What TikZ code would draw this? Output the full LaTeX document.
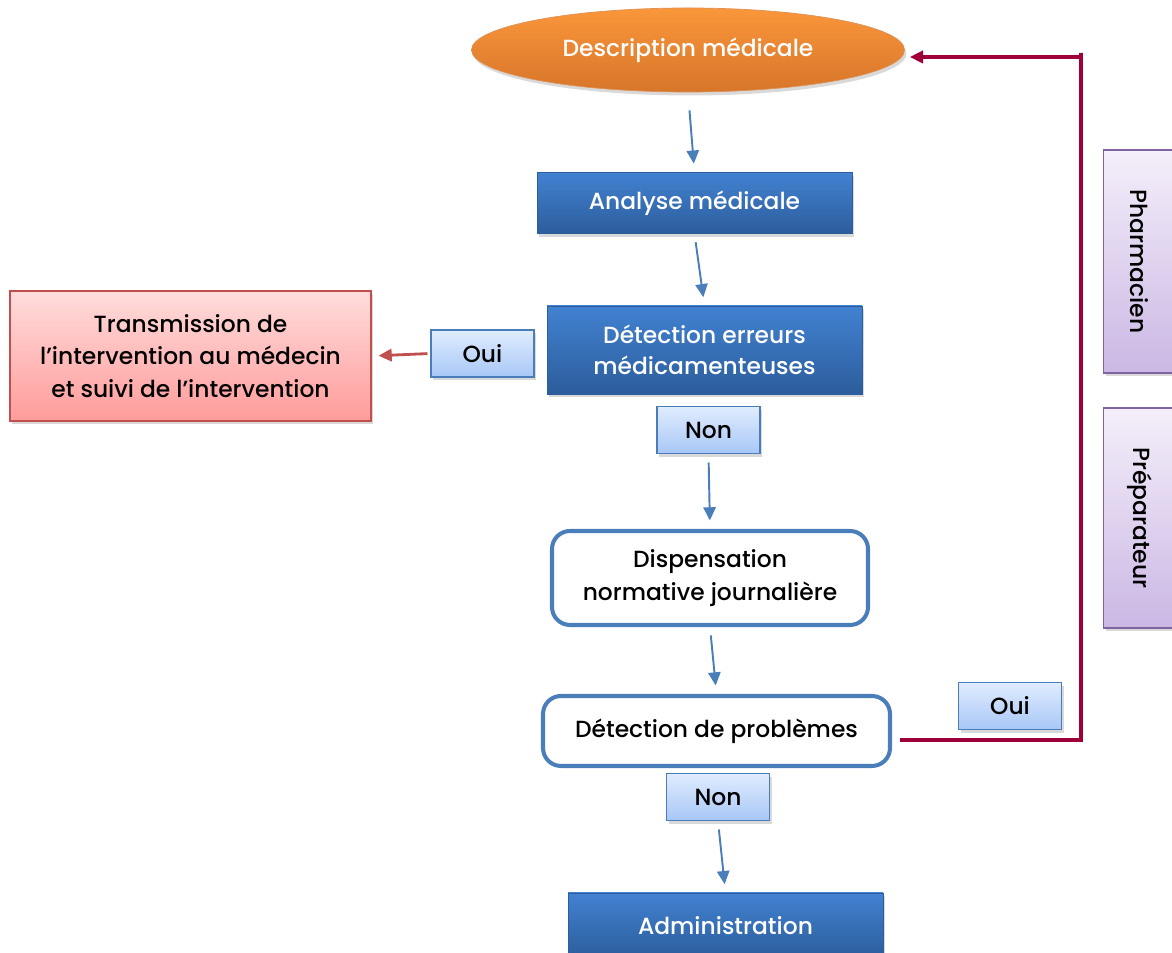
\documentclass[tikz,border=0pt]{standalone}
\usepackage{fontspec}
\setmainfont{Poppins}[UprightFont=* Medium]
\usetikzlibrary{arrows.meta,shadows,shapes.geometric}
\definecolor{flowblue}{HTML}{4A7EBB}
\definecolor{boxtop}{HTML}{4282D1}
\definecolor{boxbot}{HTML}{2C5D9C}
\definecolor{tagtop}{HTML}{E0ECFE}
\definecolor{tagbot}{HTML}{A8C7F6}
\definecolor{orangetop}{HTML}{FA963A}
\definecolor{orangebot}{HTML}{D7752A}
\definecolor{redtop}{HTML}{FFDCDC}
\definecolor{redbot}{HTML}{FF9C9B}
\definecolor{rededge}{HTML}{C0504D}
\definecolor{purpletop}{HTML}{F4EFFA}
\definecolor{purplebot}{HTML}{CBB7E4}
\definecolor{purpleedge}{HTML}{8064A2}
\definecolor{loopred}{HTML}{A0003A}

\begin{document}
\begin{tikzpicture}[>={Triangle[width=7pt,length=7.5pt]},
  shade/.style={drop shadow={shadow xshift=0.04cm, shadow yshift=-0.07cm, opacity=0.3}},
  stage/.style={shade, draw=boxbot, top color=boxtop, bottom color=boxbot, text=white, align=center, inner sep=0pt, minimum width=6.3cm, font=\fontsize{13.3}{18}\selectfont},
  check/.style={draw=flowblue, line width=2.3pt, rounded corners=0.36cm, fill=white, align=center, inner sep=0pt, font=\fontsize{13.3}{18.5}\selectfont},
  tag/.style={shade, draw=flowblue, semithick, top color=tagtop, bottom color=tagbot, inner sep=0pt, minimum width=2.06cm, minimum height=0.94cm, font=\fontsize{13.3}{14}\selectfont},
  actor/.style={shade, draw=purpleedge, semithick, top color=purpletop, bottom color=purplebot, rotate=-90, inner sep=0pt, minimum height=1.44cm, font=\fontsize{13.3}{14}\selectfont},
  flow/.style={draw=flowblue, line width=1.1pt, ->, shorten >=0.17cm, shorten <=0.17cm}]
\useasboundingbox (0,0) rectangle (23.44,19.06);
% main column
\node[shade, ellipse, draw=orangebot!80, top color=orangetop, bottom color=orangebot, text=white, inner sep=0pt, minimum width=8.66cm, minimum height=1.68cm, font=\fontsize{13.3}{14}\selectfont] (desc) at (13.76, 18.06) {Description médicale};
\node[stage, minimum height=1.22cm] (analyse) at (13.89, 15.0) {Analyse médicale};
\node[stage, minimum height=1.76cm] (erreurs) at (14.09, 12.06) {Détection erreurs\\médicamenteuses};
\node[tag] (oui1) at (9.65, 11.99) {Oui};
\node[shade, draw=rededge, semithick, top color=redtop, bottom color=redbot, align=center, inner sep=0pt, minimum width=7.22cm, minimum height=2.6cm, font=\fontsize{13.3}{18.5}\selectfont] (transm) at (3.81, 11.94) {Transmission de\\l’intervention au médecin\\et suivi de l’intervention};
\node[tag] (non1) at (14.17, 10.46) {Non};
\node[check, minimum width=6.32cm, minimum height=1.88cm] (dispens) at (14.2, 7.5) {Dispensation\\normative journalière};
\node[check, minimum width=6.94cm, minimum height=1.4cm] (probl) at (14.33, 4.44) {Détection de problèmes};
\node[tag] (non2) at (14.36, 3.12) {Non};
\node[stage, minimum height=1.3cm] (admin) at (14.51, 0.55) {Administration};
\node[tag] (oui2) at (20.2, 4.94) {Oui};
% actors
\node[actor, minimum width=4.46cm] (pharm) at (22.79, 13.83) {Pharmacien};
\node[actor, minimum width=4.4cm] (prep) at (22.79, 8.7) {Préparateur};
\coordinate (turn) at (21.62, 18.0);
\draw [flow, shorten <=0.36cm] (desc.south) -- (analyse.north) ;
\draw [flow] (analyse.south) -- (erreurs.north) ;
\draw [flow] (non1.south) -- (dispens.north) ;
\draw [flow] (dispens.south) -- (probl.north) ;
\draw [flow] (non2.south) -- (admin.north) ;
\draw [draw=rededge, line width=1.6pt, ->, shorten >=0.14cm, shorten <=0.06cm] (oui1.west) -- (transm.east) ;
\draw [draw=loopred, line width=1.8pt, ->, shorten >=0.1cm] ([xshift=0.16cm, yshift=-0.18cm]probl.east) -| (turn) |- ([yshift=-0.14cm]desc.east) ;
\end{tikzpicture}
\end{document}
